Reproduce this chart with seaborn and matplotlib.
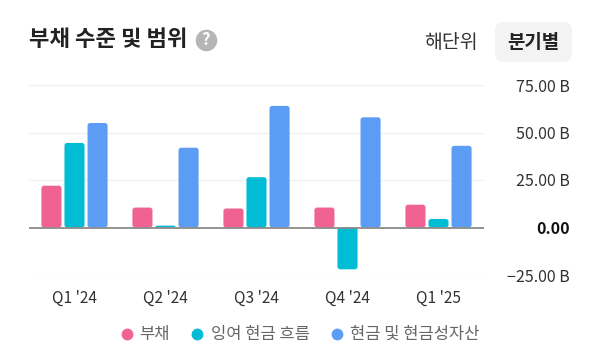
#!/usr/bin/env python3

import pandas as pd
import matplotlib
matplotlib.use("Agg")
import matplotlib.pyplot as plt
import matplotlib.patches as mpatches
from matplotlib.lines import Line2D
import seaborn as sns

QUARTERS = ["Q1 '24", "Q2 '24", "Q3 '24", "Q4 '24", "Q1 '25"]
DEBT = [22.0, 10.5, 10.0, 10.5, 12.0]
FCF = [44.5, 1.0, 26.5, -22.0, 4.5]
CASH = [55.0, 42.0, 64.0, 58.0, 43.0]
SERIES = ["부채", "잉여 현금 흐름", "현금 및 현금성자산"]
COLORS = ["#F06292", "#00BCD4", "#5B9DF5"]
YTICKS = [-25, 0, 25, 50, 75]
YLABELS = ["−25.00 B", "0.00", "25.00 B", "50.00 B", "75.00 B"]

sns.set_style("white")
plt.rcParams["font.family"] = ["Noto Sans CJK KR", "DejaVu Sans"]

df = pd.DataFrame({
    "quarter": QUARTERS * 3,
    "series": [s for s in SERIES for _ in QUARTERS],
    "value": DEBT + FCF + CASH,
})

W, H = 600, 350
fig = plt.figure(figsize=(6, 3.5), dpi=100)
# axes box in pixels: x 29-484, y 85 (75 B) to 275 (-25 B)
ax = fig.add_axes([29 / W, 1 - 275 / H, 455 / W, 190 / H])

sns.barplot(data=df, x="quarter", y="value", hue="series", hue_order=SERIES,
            palette=COLORS, saturation=1, width=0.76, gap=0.13, ax=ax,
            legend=False, errorbar=None, zorder=3)
ax.set_ylim(-25, 75)
ax.set_xlim(-0.5, 4.5)

# swap square bars for slightly rounded ones, flat end stays on the axis
for bar in list(ax.patches):
    x, y, w, h = bar.get_x(), bar.get_y(), bar.get_width(), bar.get_height()
    if h == 0:
        continue
    color = bar.get_facecolor()
    bar.remove()
    rx = 0.03
    ry = min(1.4, abs(h) / 2)
    ax.add_patch(mpatches.FancyBboxPatch(
        (x, min(y, y + h)), w, abs(h),
        boxstyle=f"round,pad=0,rounding_size={rx}",
        mutation_aspect=ry / rx, fc=color, ec="none", zorder=3))

sns.despine(ax=ax, left=True, bottom=True, top=True, right=True)
for v in YTICKS:
    if v == 0:
        ax.axhline(v, color="#8A8A8A", lw=1.3, zorder=4)
    else:
        ax.axhline(v, color="#F0F0F0", lw=1, zorder=1)

ax.set_xlabel("")
ax.set_ylabel("")
ax.yaxis.tick_right()
ax.set_yticks(YTICKS)
ax.set_yticklabels(YLABELS, fontsize=11.5, color="#333333", ha="right")
ax.tick_params(axis="y", length=0, pad=62)
ax.get_yticklabels()[1].set_fontweight("bold")
ax.get_yticklabels()[1].set_color("#111111")
ax.tick_params(axis="x", length=0, pad=11, labelsize=11.2, labelcolor="#333333")

# header
fig.text(29 / W, 1 - 40 / H, "부채 수준 및 범위", fontsize=16, fontweight="bold",
         color="#222222", va="center", ha="left")
fig.add_artist(Line2D([206 / W], [1 - 40 / H], marker="o", ms=15.5, color="#B5B5B5",
                      mec="none", transform=fig.transFigure))
fig.text(206 / W, 1 - 40 / H, "?", fontsize=12, fontweight="bold", color="white",
         va="center", ha="center")
fig.text(451 / W, 1 - 42 / H, "해단위", fontsize=14, color="#333333", va="center", ha="center")
fig.add_artist(mpatches.FancyBboxPatch((495, H - 62), 77, 40,
                                       boxstyle="round,pad=0,rounding_size=9",
                                       fc="#F3F3F3", ec="none", transform=None))
fig.text(533 / W, 1 - 42 / H, "분기별", fontsize=13.6, fontweight="bold", color="#222222",
         va="center", ha="center")

# legend
for x_m, x_t, name, c in zip([127, 197, 337], [139, 211, 350], SERIES, COLORS):
    fig.add_artist(Line2D([x_m / W], [1 - 334 / H], marker="o", ms=8.5, color=c,
                          mec="none", transform=fig.transFigure))
    fig.text(x_t / W, 1 - 334 / H, name, fontsize=11.9, color="#666666",
             va="center", ha="left")

fig.savefig("out.png", dpi=100)
